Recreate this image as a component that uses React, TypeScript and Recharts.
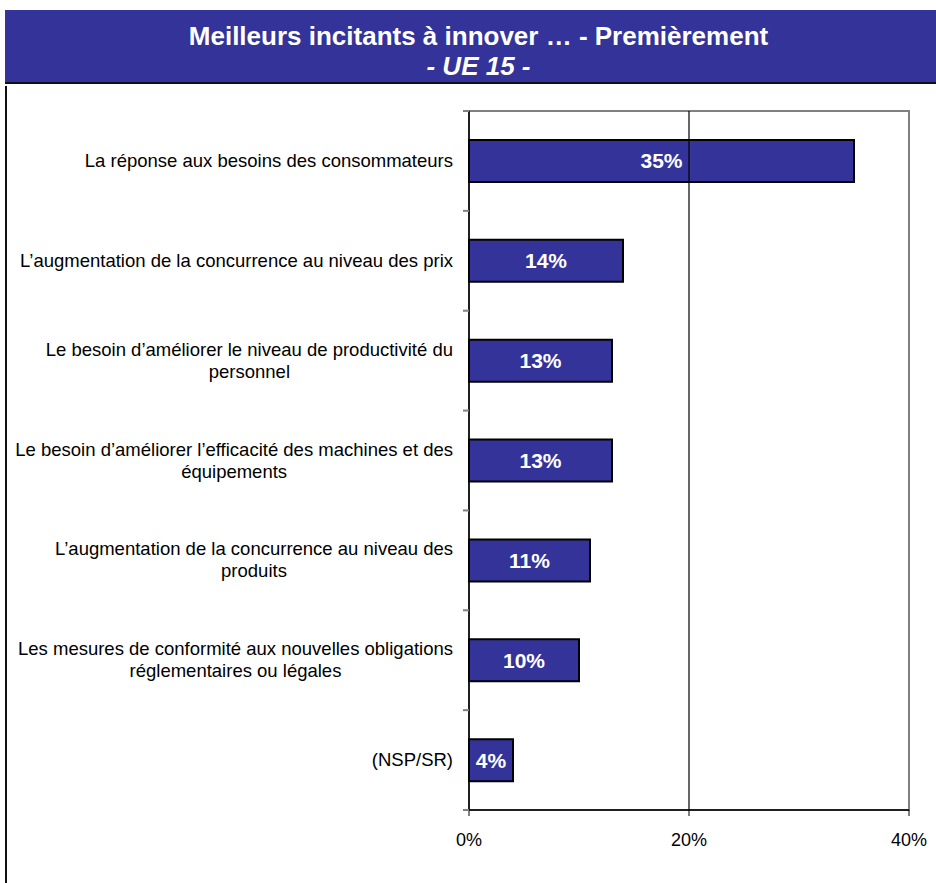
import React from "react";
import {
  BarChart,
  Bar,
  XAxis,
  YAxis,
  LabelList,
  ReferenceLine,
  ReferenceArea,
} from "recharts";

const categories = [
  "La réponse aux besoins des consommateurs",
  "L’augmentation de la concurrence au niveau des prix",
  "Le besoin d’améliorer le niveau de productivité du\npersonnel",
  "Le besoin d’améliorer l’efficacité des machines et des\néquipements",
  "L’augmentation de la concurrence au niveau des\nproduits",
  "Les mesures de conformité aux nouvelles obligations\nréglementaires ou légales",
  "(NSP/SR)",
];
const values = [35, 14, 13, 13, 11, 10, 4];
const xTicks = [0, 20, 40];

const W = 936;
const H = 883;
const X_AXIS_H = 30;
const MARGIN = { top: 111, right: 27, bottom: 73 - X_AXIS_H, left: 9 };
const Y_AXIS_W = 460;
const AXIS_X = MARGIN.left + Y_AXIS_W;
const BAND = (H - MARGIN.top - 73) / categories.length;
const FONT = "'Liberation Sans', Arial, sans-serif";
const LABEL_SIZE = 18.5;

const data = categories.map((label, i) => ({ label, value: values[i] }));

let measureCtx: CanvasRenderingContext2D | null = null;
const textWidth = (s: string) => {
  if (!measureCtx) {
    measureCtx = document.createElement("canvas").getContext("2d");
    if (measureCtx) measureCtx.font = `${LABEL_SIZE}px ${FONT}`;
  }
  return measureCtx ? measureCtx.measureText(s).width : s.length * 9;
};

// category labels: text block right-aligned against the axis, lines centred in it
const CategoryTick = (props: any) => {
  const { y, payload, index } = props;
  const lines = String(payload.value).split("\n");
  const right = AXIS_X - 16;
  const blockW = Math.max(...lines.map(textWidth));
  const cx = right - blockW / 2;
  const top = 6 - (lines.length - 1) * 11;
  return (
    <g>
      {index === 0 && (
        <line x1={AXIS_X - 6} x2={AXIS_X} y1={y - BAND / 2} y2={y - BAND / 2} stroke="#808080" strokeWidth={2} />
      )}
      <line x1={AXIS_X - 6} x2={AXIS_X} y1={y + BAND / 2} y2={y + BAND / 2} stroke="#808080" strokeWidth={2} />
      {lines.map((ln, i) => (
        <text
          key={i}
          x={lines.length === 1 ? right : cx}
          y={y + top + i * 22}
          textAnchor={lines.length === 1 ? "end" : "middle"}
          fontSize={LABEL_SIZE}
          fontFamily={FONT}
          fill="#000"
        >
          {ln}
        </text>
      ))}
    </g>
  );
};

export default function App() {
  return (
    <div
      style={{
        position: "absolute",
        left: 0,
        top: 0,
        width: W,
        height: H,
        background: "#fff",
        fontFamily: FONT,
      }}
    >
      <div
        style={{
          position: "absolute",
          left: 5,
          top: 10,
          width: W - 5,
          height: 74,
          background: "#333399",
          borderBottom: "2px solid #111",
          color: "#fff",
          fontWeight: "bold",
          fontSize: 26,
          lineHeight: "30px",
          textAlign: "center",
          paddingTop: 11,
          paddingLeft: 16,
          boxSizing: "border-box",
        }}
      >
        <div>Meilleurs incitants à innover … - Premièrement</div>
        <div style={{ fontStyle: "italic" }}>- UE 15 -</div>
      </div>
      <div
        style={{
          position: "absolute",
          left: 5,
          top: 86,
          width: 2,
          height: H - 86,
          background: "#111",
        }}
      />
      <div style={{ position: "absolute", left: 0, top: 0 }}>
        <BarChart width={W} height={H} data={data} layout="vertical" margin={MARGIN}>
          <ReferenceArea x1={0} x2={40} fill="none" stroke="#808080" strokeWidth={2} ifOverflow="visible" />
          <ReferenceLine x={20} stroke="#000" strokeWidth={1.2} />
          <XAxis
            type="number"
            domain={[0, 40]}
            ticks={xTicks}
            height={X_AXIS_H}
            tickFormatter={(v) => `${v}%`}
            axisLine={{ stroke: "#000", strokeWidth: 1.5 }}
            tickLine={{ stroke: "#000" }}
            tickSize={6}
            tickMargin={17}
            tick={{ fill: "#000", fontSize: 18, fontFamily: FONT }}
          />
          <YAxis
            type="category"
            dataKey="label"
            width={Y_AXIS_W}
            axisLine={{ stroke: "#000", strokeWidth: 1.5 }}
            tickLine={false}
            tick={<CategoryTick />}
            interval={0}
          />
          <Bar
            dataKey="value"
            fill="#333399"
            stroke="#000"
            strokeWidth={2}
            barSize={42}
            isAnimationActive={false}
          >
            <LabelList
              dataKey="value"
              position="center"
              fill="#fff"
              fontSize={21}
              fontWeight="bold"
              fontFamily={FONT}
              formatter={(v: any) => `${v}%`}
            />
          </Bar>
        </BarChart>
      </div>
    </div>
  );
}
